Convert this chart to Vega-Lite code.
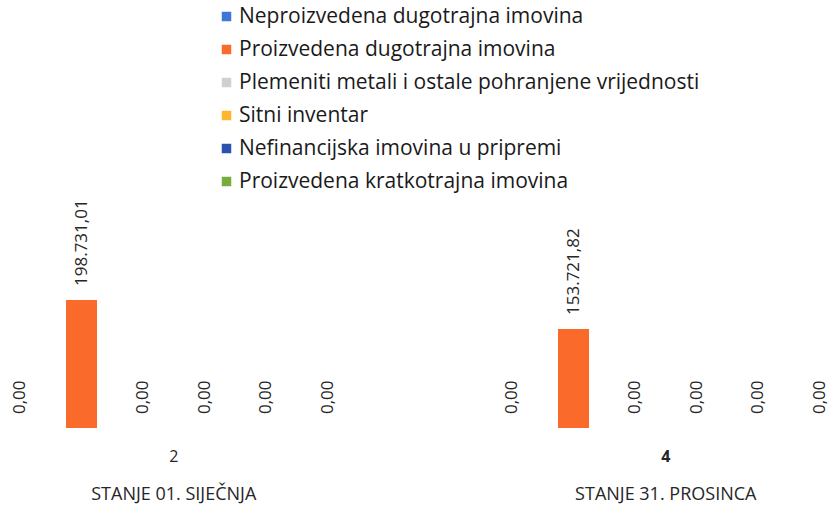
{
  "$schema": "https://vega.github.io/schema/vega-lite/v6.json",
  "width": 835,
  "height": 428,
  "padding": {"left": 0, "top": 0, "right": 0, "bottom": 82},
  "autosize": {"type": "none"},
  "background": "white",
  "config": {
    "view": {"stroke": null},
    "locale": {"number": {"decimal": ",", "thousands": ".", "grouping": [3], "currency": ["", " €"]}},
    "font": "Open Sans"
  },
  "data": {
    "values": [
      {"stanje": "STANJE 01. SIJEČNJA", "oznaka": "2", "vrsta": "Neproizvedena dugotrajna imovina", "iznos": 0},
      {"stanje": "STANJE 01. SIJEČNJA", "oznaka": "2", "vrsta": "Proizvedena dugotrajna imovina", "iznos": 198731.01},
      {"stanje": "STANJE 01. SIJEČNJA", "oznaka": "2", "vrsta": "Plemeniti metali i ostale pohranjene vrijednosti", "iznos": 0},
      {"stanje": "STANJE 01. SIJEČNJA", "oznaka": "2", "vrsta": "Sitni inventar", "iznos": 0},
      {"stanje": "STANJE 01. SIJEČNJA", "oznaka": "2", "vrsta": "Nefinancijska imovina u pripremi", "iznos": 0},
      {"stanje": "STANJE 01. SIJEČNJA", "oznaka": "2", "vrsta": "Proizvedena kratkotrajna imovina", "iznos": 0},
      {"stanje": "STANJE 31. PROSINCA", "oznaka": "4", "vrsta": "Neproizvedena dugotrajna imovina", "iznos": 0},
      {"stanje": "STANJE 31. PROSINCA", "oznaka": "4", "vrsta": "Proizvedena dugotrajna imovina", "iznos": 153721.82},
      {"stanje": "STANJE 31. PROSINCA", "oznaka": "4", "vrsta": "Plemeniti metali i ostale pohranjene vrijednosti", "iznos": 0},
      {"stanje": "STANJE 31. PROSINCA", "oznaka": "4", "vrsta": "Sitni inventar", "iznos": 0},
      {"stanje": "STANJE 31. PROSINCA", "oznaka": "4", "vrsta": "Nefinancijska imovina u pripremi", "iznos": 0},
      {"stanje": "STANJE 31. PROSINCA", "oznaka": "4", "vrsta": "Proizvedena kratkotrajna imovina", "iznos": 0}
    ]
  },
  "encoding": {
    "xOffset": {
      "field": "vrsta",
      "type": "nominal",
      "sort": ["Neproizvedena dugotrajna imovina", "Proizvedena dugotrajna imovina", "Plemeniti metali i ostale pohranjene vrijednosti", "Sitni inventar", "Nefinancijska imovina u pripremi", "Proizvedena kratkotrajna imovina"],
      "scale": {"paddingInner": 0.496, "paddingOuter": 0}
    },
    "y": {
      "field": "iznos",
      "type": "quantitative",
      "scale": {"domain": [0, 664500], "nice": false},
      "axis": null
    }
  },
  "layer": [
    {
      "mark": {"type": "bar"},
      "encoding": {
        "x": {
          "field": "stanje",
          "type": "nominal",
          "scale": {"paddingInner": 0.312, "paddingOuter": 0.0046, "align": 1},
          "axis": {
            "orient": "bottom",
            "title": null,
            "domain": false,
            "ticks": false,
            "labelAngle": 0,
            "labelPadding": 20,
            "labelFontSize": 16,
            "labelColor": "#262626",
            "labelFont": "Open Sans",
            "labelFontWeight": {"condition": {"test": "datum.value == 'STANJE 31. PROSINCA'", "value": "bold"}, "value": "normal"},
            "labelExpr": "datum.label == 'STANJE 01. SIJEČNJA' ? '2' : '4'"
          }
        },
        "color": {
          "field": "vrsta",
          "type": "nominal",
          "scale": {
            "domain": ["Neproizvedena dugotrajna imovina", "Proizvedena dugotrajna imovina", "Plemeniti metali i ostale pohranjene vrijednosti", "Sitni inventar", "Nefinancijska imovina u pripremi", "Proizvedena kratkotrajna imovina"],
            "range": ["#3D78D6", "#F96A2B", "#D0D0D0", "#FFB62C", "#2A52AE", "#78AD3E"]
          },
          "legend": {
            "title": null,
            "orient": "none",
            "legendX": 216,
            "legendY": 6,
            "direction": "vertical",
            "symbolType": "square",
            "symbolSize": 90,
            "symbolStrokeWidth": 0,
            "labelFontSize": 21,
            "labelFont": "Open Sans",
            "labelColor": "#1a1a1a",
            "labelOffset": 2,
            "rowPadding": 11,
            "labelLimit": 700
          }
        }
      }
    },
    {
      "mark": {"type": "text", "angle": 270, "align": "left", "baseline": "middle", "dx": 14, "fontSize": 17, "font": "Open Sans", "color": "#262626"},
      "encoding": {
        "x": {
          "field": "stanje",
          "type": "nominal",
          "axis": {
            "orient": "bottom",
            "title": null,
            "domain": false,
            "ticks": false,
            "labelAngle": 0,
            "labelPadding": 57,
            "labelFontSize": 18,
            "labelLimit": 400,
            "labelOverlap": false,
            "labelColor": "#262626",
            "labelFont": "Open Sans"
          }
        },
        "text": {"field": "iznos", "type": "quantitative", "format": ",.2f"}
      }
    }
  ],
  "resolve": {"axis": {"x": "independent"}}
}
